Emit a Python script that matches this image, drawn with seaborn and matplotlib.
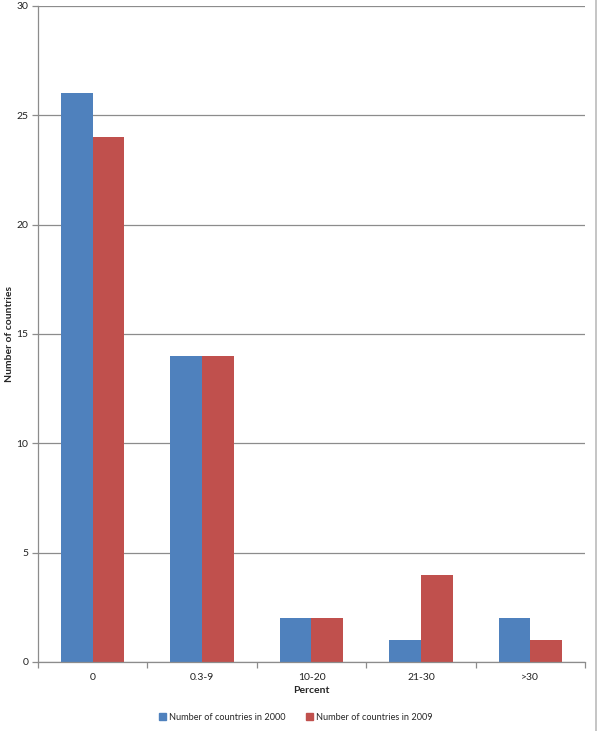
import pandas as pd
import matplotlib.pyplot as plt
import seaborn as sns
from matplotlib.patches import Patch

# data
categories = ["0", "0.3-9", "10-20", "21-30", ">30"]
countries_2000 = [26, 14, 2, 1, 2]
countries_2009 = [24, 14, 2, 4, 1]

df = pd.DataFrame({
    "Percent": categories * 2,
    "count": countries_2000 + countries_2009,
    "series": ["Number of countries in 2000"] * 5 + ["Number of countries in 2009"] * 5,
})

sns.set_theme(style="white")
plt.rcParams["font.family"] = ["Lato", "DejaVu Sans"]

blue = "#4F81BD"
red = "#C0504D"
grid_col = "#8C8C8C"

fig = plt.figure(figsize=(6, 7.31), dpi=100)
ax = fig.add_axes([0.0633, 0.0944, 0.9117, 0.8974])

sns.barplot(data=df, x="Percent", y="count", hue="series", order=categories,
            palette=[blue, red], width=0.58, gap=0, saturation=1,
            edgecolor="none", ax=ax, legend=False)

ax.set_ylim(0, 30)
ax.set_xlim(-0.5, 4.5)
ax.set_yticks(range(0, 31, 5))
ax.yaxis.grid(True, color=grid_col, linewidth=0.9)
ax.set_axisbelow(True)

for side in ["top", "right"]:
    ax.spines[side].set_visible(False)
for side in ["left", "bottom"]:
    ax.spines[side].set_color(grid_col)
    ax.spines[side].set_linewidth(0.9)

# category-boundary ticks on x, labels centred
ax.set_xticks([i + 0.5 for i in range(-1, 5)], minor=False)
ax.set_xticklabels([])
ax.set_xticks(range(5), minor=True)
ax.set_xticklabels(categories, minor=True)
ax.tick_params(axis="x", which="major", length=4, color=grid_col, width=0.9, direction="out", bottom=True)
ax.tick_params(axis="x", which="minor", length=0, labelsize=7.5, pad=8, colors="#222222")
ax.tick_params(axis="y", length=4, color=grid_col, width=0.9, direction="out", left=True,
               labelsize=7.5, pad=3, labelcolor="#222222")

ax.set_xlabel("Percent", fontsize=7.5, fontweight="bold", labelpad=3)
ax.set_ylabel("Number of countries", fontsize=7.5, fontweight="bold")
ax.yaxis.set_label_coords(-0.043, 0.5)

handles = [Patch(color=blue, label="Number of countries in 2000"),
           Patch(color=red, label="Number of countries in 2009")]
fig.legend(handles=handles, loc="center", bbox_to_anchor=(0.493, 0.019), ncol=2,
           frameon=False, fontsize=6.6, handlelength=0.8, handleheight=0.8,
           handletextpad=0.3, columnspacing=2.2)

# thin frame line at the right edge of the picture
fig.add_artist(plt.Line2D([0.994, 0.994], [0, 1], color="#BBBBBB", linewidth=1.2,
                          transform=fig.transFigure))

fig.savefig("out.png", dpi=100)
